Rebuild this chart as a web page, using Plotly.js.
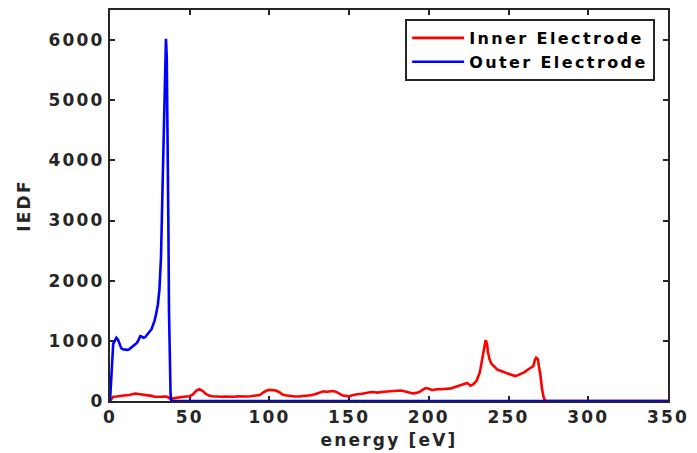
<!DOCTYPE html>
<html>
<head>
<meta charset="utf-8">
<script src="https://cdn.plot.ly/plotly-3.0.1.min.js"></script>
<style>
html, body { margin: 0; padding: 0; background: #fff; }
#chart { width: 697px; height: 453px; }
svg text { letter-spacing: 2.2px; }
svg text.legendtext { letter-spacing: 2.4px; }
</style>
</head>
<body>
<div id="chart"></div>
<script>
// Outer electrode IEDF (blue)
const energyOuter = [0, 1, 2, 3, 4, 5, 6, 7, 8, 9, 10, 11, 12, 13, 14, 15, 16, 17, 18, 19, 20, 21, 22, 23, 24, 25, 26, 27, 28, 29, 30, 31, 32, 33, 34, 34.6, 35.1, 35.6, 36.1, 36.6, 37, 37.5, 38, 38.4, 40, 350];
const iedfOuter = [0, 600, 950, 1000, 1050, 1020, 940, 880, 860, 855, 850, 850, 860, 880, 900, 920, 940, 970, 1020, 1080, 1070, 1050, 1060, 1100, 1130, 1160, 1190, 1250, 1340, 1460, 1600, 1850, 2400, 3600, 5000, 5700, 6020, 5700, 4600, 3000, 1500, 500, 100, 0, 0, 0];

// Inner electrode IEDF (red)
const energyInner = [0, 1, 2, 4, 6, 8, 10, 12, 14, 16, 18, 20, 22, 24, 26, 28, 30, 32, 34, 36, 38, 40, 42, 44, 46, 48, 50, 52, 54, 56, 58, 60, 62, 64, 66, 68, 70, 72, 74, 76, 78, 80, 82, 84, 86, 88, 90, 92, 94, 96, 98, 100, 102, 104, 106, 108, 110, 112, 114, 116, 118, 120, 122, 124, 126, 128, 130, 132, 134, 136, 138, 140, 142, 144, 146, 148, 150, 152, 154, 156, 158, 160, 162, 164, 166, 168, 170, 172, 174, 176, 178, 180, 182, 184, 186, 188, 190, 192, 194, 196, 198, 200, 202, 204, 206, 208, 210, 212, 214, 216, 218, 220, 222, 224, 225, 226, 228, 230, 232, 233, 234, 235, 235.6, 236.5, 237, 238, 239, 240, 241, 242, 243, 244, 246, 248, 250, 252, 253, 254, 256, 258, 260, 262, 264, 265.5, 266.5, 267.3, 268.3, 269, 270, 271, 272, 273, 350];
const iedfInner = [0, 40, 70, 75, 85, 90, 95, 100, 110, 125, 115, 110, 100, 95, 85, 70, 65, 70, 75, 70, 35, 45, 60, 65, 70, 75, 80, 110, 170, 195, 170, 120, 90, 80, 75, 70, 70, 75, 70, 65, 70, 80, 75, 70, 75, 80, 85, 85, 100, 140, 170, 185, 180, 175, 150, 110, 95, 85, 80, 75, 75, 80, 80, 85, 95, 110, 130, 150, 160, 155, 160, 165, 150, 120, 90, 85, 80, 95, 110, 115, 120, 130, 140, 150, 145, 140, 150, 155, 160, 165, 170, 170, 175, 165, 150, 130, 125, 135, 150, 185, 215, 205, 180, 190, 200, 195, 200, 205, 210, 230, 250, 265, 280, 300, 280, 255, 280, 340, 480, 620, 800, 960, 1010, 950, 820, 700, 630, 600, 570, 540, 520, 510, 490, 470, 455, 440, 430, 415, 430, 450, 480, 520, 550, 580, 680, 720, 700, 600, 420, 200, 60, 0, 0];

const seriesNames = ['Inner Electrode', 'Outer Electrode'];
const xTickVals = [0, 50, 100, 150, 200, 250, 300, 350];
const yTickVals = [0, 1000, 2000, 3000, 4000, 5000, 6000];

const axisColor = '#262626';
const font = { family: 'DejaVu Sans', size: 17, color: axisColor, weight: 'bold' };
const legendFont = { family: 'DejaVu Sans', size: 16, color: '#000000', weight: 'bold' };

const traces = [
  { x: energyInner, y: iedfInner, name: seriesNames[0], type: 'scatter', mode: 'lines',
    line: { color: '#ff0000', width: 2.6 } },
  { x: energyOuter, y: iedfOuter, name: seriesNames[1], type: 'scatter', mode: 'lines',
    line: { color: '#0000ff', width: 2.6 } }
];

const axisCommon = {
  showgrid: false, zeroline: false, showline: true, linecolor: axisColor, linewidth: 2,
  mirror: 'ticks', ticks: 'inside', ticklen: 5, tickwidth: 2, tickcolor: axisColor,
  tickfont: font, layer: 'below traces'
};

const layout = {
  width: 697, height: 453,
  margin: { l: 110, r: 29, t: 10, b: 52 },
  paper_bgcolor: '#ffffff', plot_bgcolor: '#ffffff',
  font: font,
  showlegend: true,
  legend: {
    x: 0.977, xanchor: 'right', y: 0.977, yanchor: 'top',
    bgcolor: '#ffffff', bordercolor: axisColor, borderwidth: 2,
    font: legendFont, tracegroupgap: 0, itemwidth: 52
  },
  xaxis: Object.assign({}, axisCommon, {
    range: [0, 350], tickvals: xTickVals, ticktext: xTickVals.map(String),
    title: { text: 'energy [eV]', font: font, standoff: 8 }
  }),
  yaxis: Object.assign({}, axisCommon, {
    range: [0, 6500], tickvals: yTickVals, ticktext: yTickVals.map(String),
    title: { text: 'IEDF', font: font, standoff: 14 }
  })
};

Plotly.newPlot('chart', traces, layout, { displayModeBar: false, staticPlot: true });
</script>
</body>
</html>
